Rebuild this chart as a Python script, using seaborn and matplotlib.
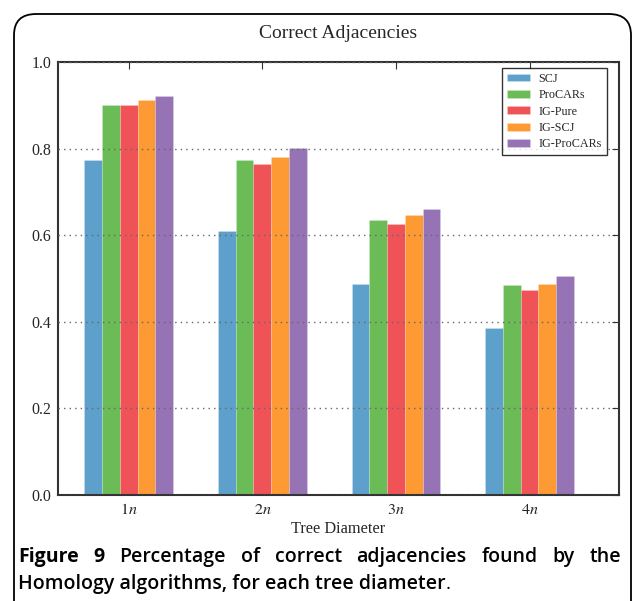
import matplotlib
matplotlib.use("Agg")
import matplotlib.pyplot as plt
import seaborn as sns
import pandas as pd
from matplotlib.patches import FancyBboxPatch

diameters = ["$1n$", "$2n$", "$3n$", "$4n$"]
methods = ["SCJ", "ProCARs", "IG-Pure", "IG-SCJ", "IG-ProCARs"]
scj = [0.773, 0.609, 0.487, 0.385]
procars = [0.900, 0.774, 0.635, 0.485]
ig_pure = [0.901, 0.764, 0.627, 0.473]
ig_scj = [0.912, 0.780, 0.646, 0.487]
ig_procars = [0.921, 0.802, 0.661, 0.506]
colors = ["#5DA0CB", "#6BBC57", "#EF5357", "#FD9A33", "#9673B5"]

series = [scj, procars, ig_pure, ig_scj, ig_procars]
rows = []
for m, vals in zip(methods, series):
    for d, v in zip(diameters, vals):
        rows.append({"Diameter": d, "Method": m, "Value": v})
df = pd.DataFrame(rows)

sns.set_style("white")
plt.rcParams["font.family"] = ["Liberation Serif", "DejaVu Serif"]
plt.rcParams["mathtext.fontset"] = "stix"

fig = plt.figure(figsize=(6.33, 6.01), dpi=100)
ax = fig.add_axes([58/633, 1-495/601, (619-58)/633, (495-62)/601])

sns.barplot(data=df, x="Diameter", y="Value", hue="Method", order=diameters,
            hue_order=methods, palette=colors, width=0.665, saturation=1,
            edgecolor=(1, 1, 1, 0.25), linewidth=0.5, ax=ax, errorbar=None)

ax.set_xlim(-0.53, 3.67)
ax.set_ylim(0, 1.0)
ax.set_yticks([0.0, 0.2, 0.4, 0.6, 0.8, 1.0])
ax.set_yticklabels(["0.0", "0.2", "0.4", "0.6", "0.8", "1.0"])
ax.yaxis.grid(True, linestyle=(0, (1, 3)), color="#666666", linewidth=1.0)
ax.xaxis.grid(False)
ax.set_axisbelow(False)
ax.tick_params(axis="both", direction="in", top=True, right=True, length=5,
               width=0.8, color="#333333", labelsize=11.5, pad=5)
for s in ax.spines.values():
    s.set_color("#333333")
    s.set_linewidth(1.5)
ax.set_xlabel("Tree Diameter", fontsize=11.8, labelpad=2)
ax.set_ylabel("")
ax.set_title("Correct Adjacencies", fontsize=14, pad=17)

handles, labels = ax.get_legend_handles_labels()
leg = ax.legend(handles, labels, loc="upper right", fontsize=8.7,
                frameon=True, fancybox=False, edgecolor="black",
                handlelength=1.9, handleheight=0.6, borderpad=0.4,
                labelspacing=0.36, handletextpad=0.7,
                bbox_to_anchor=(0.9885, 1.0))
leg.get_frame().set_linewidth(1.0)

# rounded border around the figure panel
border = FancyBboxPatch((14/633, -0.05), (631-14)/633, 1.0 - 14/601 + 0.05,
                        boxstyle="round,pad=0,rounding_size=0.035",
                        transform=fig.transFigure, fill=False,
                        edgecolor="black", linewidth=1.3, clip_on=False)
fig.patches.append(border)

# caption, justified first line
fam = ["Open Sans", "DejaVu Sans"]
fs = 14
line1 = [("Figure", "bold"), ("9", "bold"), ("Percentage", "semibold"),
         ("of", "semibold"), ("correct", "semibold"),
         ("adjacencies", "semibold"), ("found", "semibold"),
         ("by", "semibold"), ("the", "semibold")]
x0, x1 = 18/633, 621/633
y1 = 1 - 562/601
y2 = 1 - 589/601
fig.canvas.draw()
renderer = fig.canvas.get_renderer()
texts = [fig.text(0, y1, w, ha="left", va="baseline", family=fam,
                  fontsize=fs, fontweight=wt, color="black")
         for w, wt in line1]
widths = [t.get_window_extent(renderer).width / fig.bbox.width for t in texts]
gap = (x1 - x0 - sum(widths)) / (len(line1) - 1)
x = x0
for t, w in zip(texts, widths):
    t.set_x(x)
    x += w + gap
t2 = fig.text(x0, y2, "Homology algorithms, for each tree diameter", ha="left",
              va="baseline", family=fam, fontsize=fs, fontweight="semibold",
              color="black")
w2 = t2.get_window_extent(renderer).width / fig.bbox.width
fig.text(x0 + w2, y2, ".", ha="left", va="baseline",
         family=fam, fontsize=fs, color="black")

fig.savefig("out.png", dpi=100)
